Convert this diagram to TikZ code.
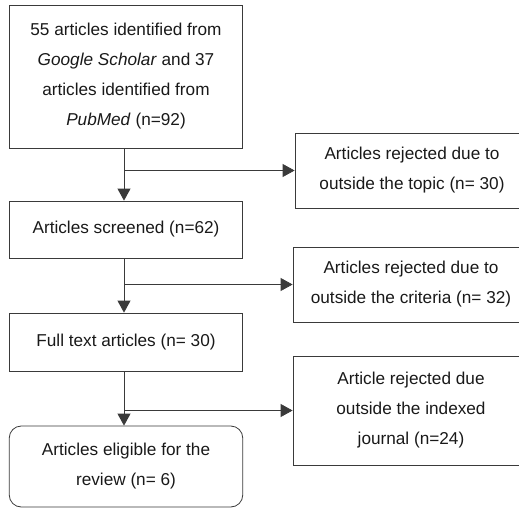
\documentclass[tikz,border=0pt]{standalone}
\usepackage{fontspec}
\setmainfont{Liberation Sans}
\usepackage{xcolor}
\usepackage{tikz}
\usetikzlibrary{arrows.meta}
\definecolor{lineg}{HTML}{3A3A3A}

\begin{document}
\begin{tikzpicture}[x=1pt, y=-1pt, line width=0.8pt,
    box/.style={draw=lineg, align=center, inner sep=0pt,
      font=\fontsize{17.2}{30}\selectfont, text=black!90},
    arr/.style={draw=lineg, -{Triangle[length=12pt, width=13pt]}}]

  \useasboundingbox (0,0) rectangle (519,508);

  % -- the main column, top to bottom
  \node[box, minimum width=233.5pt, minimum height=143pt] (found) at (126,76.5)
    {55 articles identified from\\ \textit{Google Scholar} and 37\\
     articles identified from\\ \textit{PubMed} (n=92)};
  \node[box, minimum width=233.5pt, minimum height=57pt] (screened) at (126,229.5)
    {Articles screened (n=62)};
  \node[box, minimum width=233.5pt, minimum height=58pt] (fulltext) at (126,342)
    {Full text articles (n= 30)};
  \node[box, rounded corners=12pt, minimum width=233.5pt, minimum height=81pt]
    (eligible) at (126,466.5) {Articles eligible for the\\ review (n= 6)};

  % -- the rejected boxes on the right; their right edge runs off the page
  \node[box, minimum width=234pt, minimum height=75pt] (rejtopic) at (412,170.5)
    {Articles rejected due to\\ outside the topic (n= 30)};
  \node[box, minimum width=236pt, minimum height=75pt] (rejcrit) at (411,284.5)
    {Articles rejected due to\\ outside the criteria (n= 32)};
  \node[box, minimum width=236pt, minimum height=109pt] (rejjour) at (411,410.5)
    {Article rejected due\\ outside the indexed\\ journal (n=24)};

  % -- down the column, and a branch off each step to its rejected box
  \foreach \from/\to/\rej in {found/screened/rejtopic, screened/fulltext/rejcrit,
                              fulltext/eligible/rejjour}{
    \draw[arr] ([xshift=-2pt]\from.south) -- ([xshift=-2pt]\to.north);
    \draw[arr] ([xshift=-2pt]\from.south |- \rej.west) -- (\rej.west);}

\end{tikzpicture}
\end{document}
